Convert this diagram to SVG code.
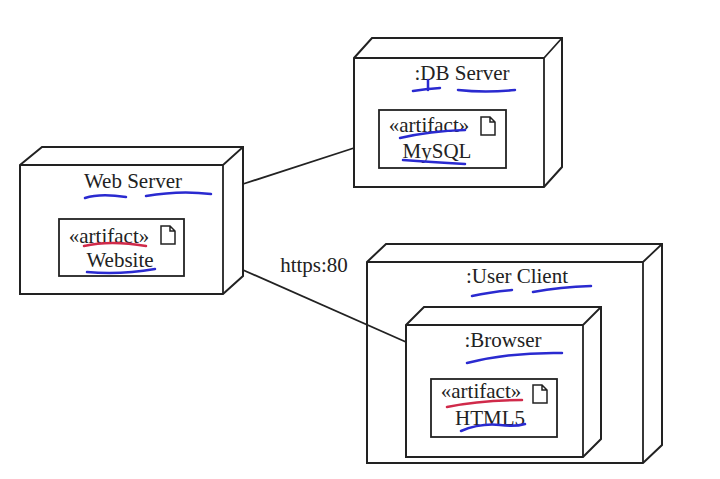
<svg xmlns="http://www.w3.org/2000/svg" width="720" height="479" viewBox="0 0 720 479">
<style>
.n{fill:#fff;stroke:#222;stroke-width:2}
.a{fill:#fff;stroke:#222;stroke-width:1.8}
.t{font-family:"Liberation Serif",serif;font-size:21px;fill:#222;text-anchor:middle}
.c{stroke:#222;stroke-width:1.8;fill:none}
.doc{fill:#fff;stroke:#222;stroke-width:1.5}
.b{stroke:#2a2ad0;stroke-width:2.5;fill:none;stroke-linecap:round}
.r{stroke:#d02a4a;stroke-width:2.5;fill:none;stroke-linecap:round}
</style>
<defs>
<path id="doc" class="doc" d="M0,0 h9 l5,5 v13 h-14 z M9,0 v5 h5"/>
</defs>
<g id="web-server">
<path class="n" d="M20,165 L42,147 L243,147 L243,276 L223,294 L20,294 Z"/>
<path class="c" d="M20,165 H223 V294 M223,165 L243,147"/>
<text class="t" x="133" y="188">Web Server</text>
<rect class="a" x="59" y="219" width="125" height="57"/>
<text class="t" x="109" y="243">«artifact»</text>
<use href="#doc" x="161" y="226"/>
<text class="t" x="120" y="267">Website</text>
<path class="b" d="M85,198 Q100,193 126,197 M146,196 Q180,190 211,194"/>
<path class="r" d="M84,246 Q110,240 146,246"/>
<path class="b" d="M87,272 Q120,275 155,269"/>
</g>
<g id="db-server">
<path class="n" d="M354,58 L372,38 L562,38 L562,167 L544,187 L354,187 Z"/>
<path class="c" d="M354,58 H544 V187 M544,58 L562,38"/>
<text class="t" x="462" y="80">:DB Server</text>
<rect class="a" x="379" y="110" width="127" height="58"/>
<text class="t" x="429" y="132">«artifact»</text>
<use href="#doc" x="481" y="117"/>
<text class="t" x="437" y="158">MySQL</text>
<path class="b" d="M413,91 Q425,89 440,88 M428,80 V90 M458,90 Q485,93 515,90"/>
<path class="b" d="M400,138 Q430,131 465,130"/>
<path class="b" d="M403,160 Q430,162 465,164"/>
</g>
<g id="user-client">
<path class="n" d="M367,262 L386,244 L662,244 L662,445 L643,463 L367,463 Z"/>
<path class="c" d="M367,262 H643 V463 M643,262 L662,244"/>
<text class="t" x="517" y="283">:User Client</text>
<path class="b" d="M472,296 Q490,292 512,290 M533,292 Q560,287 591,286"/>
<g id="browser">
<path class="n" d="M406,325 L424,307 L601,307 L601,439 L583,457 L406,457 Z"/>
<path class="c" d="M406,325 H583 V457 M583,325 L601,307"/>
<text class="t" x="503" y="347">:Browser</text>
<path class="b" d="M467,363 Q510,352 562,353"/>
<rect class="a" x="431" y="379" width="126" height="58"/>
<text class="t" x="481" y="398">«artifact»</text>
<use href="#doc" x="533" y="385"/>
<text class="t" x="490" y="425">HTML5</text>
<path class="r" d="M447,407 Q480,400 522,400"/>
<path class="b" d="M461,431 Q480,423 500,425 Q515,427 525,424"/>
</g>
</g>
<g id="connectors">
<line class="c" x1="243" y1="184" x2="354" y2="148"/>
<line class="c" x1="243" y1="270" x2="406" y2="342"/>
<text class="t" x="314" y="272">https:80</text>
</g>
</svg>
